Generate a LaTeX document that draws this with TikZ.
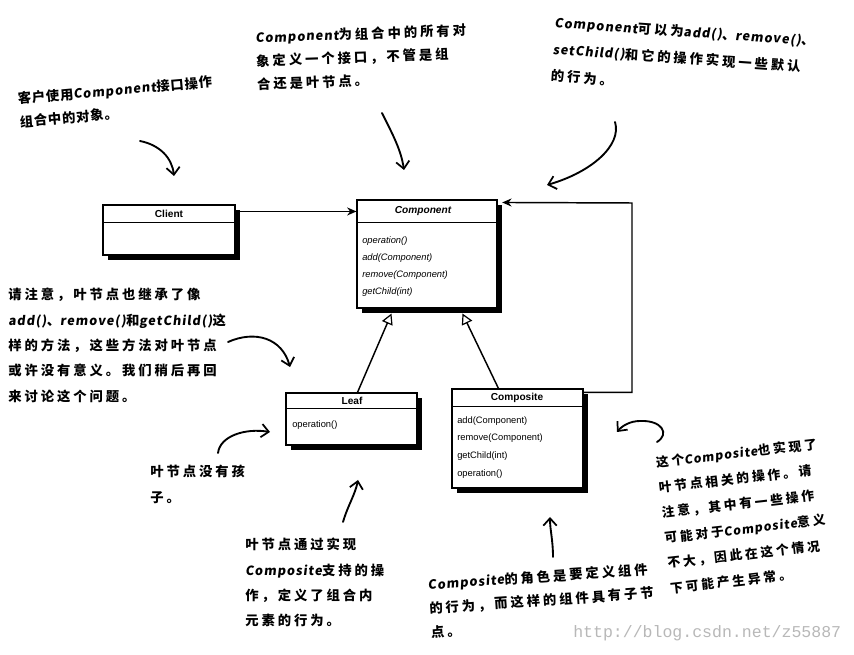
\documentclass[tikz,border=0pt]{standalone}
\usepackage{fontspec}
\newfontfamily\uml{Liberation Sans}
\newfontfamily\hand[LetterSpace=22]{Noto Sans CJK SC}
\newfontfamily\handsmall[LetterSpace=6]{Noto Sans CJK SC}
\newfontfamily\latfont[Scale=0.95,FakeSlant=0.12,LetterSpace=8]{Noto Sans CJK SC}
\newcommand\ltn[1]{{\latfont #1}}
\newfontfamily\wmfont{Liberation Mono}
\usetikzlibrary{arrows.meta,fit,shadows}
\begin{document}
\begin{tikzpicture}[x=0.75pt,y=-0.75pt,
  umlbox/.style={draw=black, line width=0.8pt, fill=white, inner sep=0pt,
    general shadow={fill=black, shadow xshift=3.5pt, shadow yshift=-3.5pt}},
  sep/.style={line width=0.7pt},
  title/.style={font=\uml\bfseries\fontsize{7.6}{8}\selectfont, inner sep=0pt},
  meth/.style={font=\uml\fontsize{7}{8}\selectfont, inner sep=0pt, anchor=west},
  assoc/.style={line width=1.1pt, -{Stealth[length=7pt,width=6pt]}},
  inherit/.style={line width=1.1pt, -{Triangle[open,length=8pt,width=8.5pt,line width=0.9pt,fill=white]}},
  hand arrow/.style={line width=1.4pt, line cap=round,
    -{Straight Barb[length=5.5pt,width=10pt,line width=1.3pt]}},
  note/.style={font=\hand\bfseries\fontsize{10}{19}\selectfont, align=left,
    inner sep=0pt, anchor=north west},
]
\useasboundingbox (0,0) rectangle (854,655);
\fill[white] (0,0) rectangle (854,655);

% ---------- UML boxes ----------
\node[umlbox, fit={(103,205)(235,255)}] (client) {};
\draw[sep] ([yshift=-13.5pt]client.north west) -- ([yshift=-13.5pt]client.north east);
\node[title] (clientT) at (169,214) {Client};

\node[umlbox, fit={(357,200)(497,308)}] (component) {};
\draw[sep] ([yshift=-17.25pt]component.north west) -- ([yshift=-17.25pt]component.north east);
\node[title, font=\uml\bfseries\itshape\fontsize{7.6}{8}\selectfont] (componentT) at (423,211) {Component};
\node[meth] (cm1) at (362,241) {\itshape operation()};
\node[meth] (cm2) at (362,258) {\itshape add(Component)};
\node[meth] (cm3) at (362,275) {\itshape remove(Component)};
\node[meth] (cm4) at (362,292) {\itshape getChild(int)};

\node[umlbox, fit={(286,393)(417,445)}] (leaf) {};
\draw[sep] ([yshift=-12pt]leaf.north west) -- ([yshift=-12pt]leaf.north east);
\node[title] (leafT) at (352,401) {Leaf};
\node[meth] (lm1) at (292,425) {operation()};

\node[umlbox, fit={(452,389)(583,488)}] (composite) {};
\draw[sep] ([yshift=-13.5pt]composite.north west) -- ([yshift=-13.5pt]composite.north east);
\node[title] (compositeT) at (517,398) {Composite};
\node[meth] (pm1) at (457,421) {add(Component)};
\node[meth] (pm2) at (457,438) {remove(Component)};
\node[meth] (pm3) at (457,456) {getChild(int)};
\node[meth] (pm4) at (457,474) {operation()};

% ---------- UML connectors ----------
\draw[assoc] ([yshift=-5.25pt]client.north east) -- ([yshift=-9pt]component.north west);
\draw[inherit] ([xshift=54pt]leaf.north west) -- ([xshift=26.25pt,yshift=-3.75pt]component.south west);
\draw[inherit] ([xshift=35.25pt]composite.north west) -- ([xshift=79.5pt,yshift=-3.75pt]component.south west);
\coordinate (corner) at (632,203);
\draw[assoc] ([yshift=-3pt]composite.north east) -| (corner)
  -- ([xshift=3.5pt,yshift=-2.25pt]component.north east);

% ---------- annotations ----------
\node[note, rotate=5, font=\handsmall\bfseries\fontsize{10}{17.5}\selectfont] (n1) at (17,92)
  {客户使用\ltn{Component}接口操作\\组合中的对象。};
\node[note, rotate=2, font=\hand\bfseries\fontsize{10}{17.5}\selectfont] (n2) at (255,31)
  {\ltn{Component}为组合中的所有对\\象定义一个接口，不管是组\\合还是叶节点。};
\node[note, rotate=-4, font=\hand\bfseries\fontsize{10}{20}\selectfont] (n3) at (555,16)
  {\ltn{Component}可以为\ltn{add()}、\ltn{remove()}、\\\ltn{setChild()}和它的操作实现一些默认\\的行为。};
\node[note] (n4) at (8,288)
  {请注意，叶节点也继承了像\\\ltn{add()}、\ltn{remove()}和\ltn{getChild()}这\\样的方法，这些方法对叶节点\\或许没有意义。我们稍后再回\\来讨论这个问题。};
\node[note] (n5) at (150,465) {叶节点没有孩\\子。};
\node[note] (n6) at (245,538)
  {叶节点通过实现\\\ltn{Composite}支持的操\\作，定义了组合内\\元素的行为。};
\node[note, rotate=4, font=\hand\bfseries\fontsize{10}{17.8}\selectfont] (n7) at (427,578)
  {\ltn{Composite}的角色是要定义组件\\的行为，而这样的组件具有子节\\点。};
\node[note, rotate=6.5, font=\hand\bfseries\fontsize{9.6}{19}\selectfont] (n8) at (655,456)
  {这个\ltn{Composite}也实现了\\叶节点相关的操作。请\\注意，其中有一些操作\\可能对于\ltn{Composite}意义\\不大，因此在这个情况\\下可能产生异常。};

% ---------- hand-drawn arrows ----------
\coordinate (a1s) at (140,141); \coordinate (a1e) at (174,176);
\draw[hand arrow] (a1s) .. controls (160,145) and (172,158) .. (a1e);
\coordinate (a2s) at (382,113); \coordinate (a2e) at (404,170);
\draw[hand arrow] (a2s) .. controls (393,135) and (401,150) .. (a2e);
\coordinate (a3s) at (615,122); \coordinate (a3e) at (547,185);
\draw[hand arrow] (a3s) .. controls (622,145) and (592,172) .. (a3e);
\coordinate (a4s) at (228,342); \coordinate (a4e) at (290,367);
\draw[hand arrow] (a4s) .. controls (255,330) and (282,338) .. (a4e);
\coordinate (a5s) at (218,453); \coordinate (a5e) at (270,432);
\draw[hand arrow] (a5s) .. controls (220,436) and (245,428) .. (a5e);
\coordinate (a6s) at (343,522); \coordinate (a6e) at (358,480);
\draw[hand arrow] (a6s) .. controls (348,505) and (355,495) .. (a6e);
\coordinate (a7s) at (553,557); \coordinate (a7e) at (550,517);
\draw[hand arrow] (a7s) .. controls (553,540) and (550,530) .. (a7e);
\coordinate (a8s) at (657,442); \coordinate (a8e) at (617,432);
\draw[hand arrow] (a8s) .. controls (670,434) and (662,420) .. (640,421)
  .. controls (630,421) and (622,426) .. (a8e);

% ---------- watermark ----------
\node[anchor=west, inner sep=0pt, text=black!28, font=\wmfont\fontsize{12.4}{14}\selectfont] (wm) at (573,633)
  {http://blog.csdn.net/z55887};
\end{tikzpicture}
\end{document}
